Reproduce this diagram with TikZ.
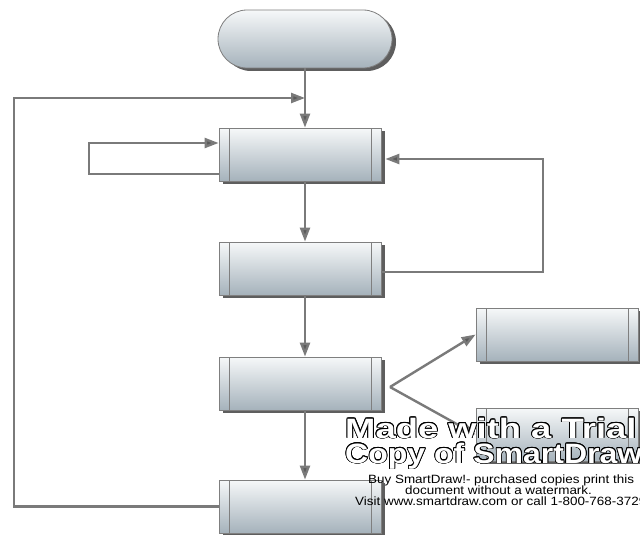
\documentclass[tikz,border=0pt]{standalone}
\usepackage{fontspec}
\usepackage{contour}
\contourlength{0.9pt}
\usetikzlibrary{arrows.meta,shadows,calc}
\newfontfamily\wmfont{Liberation Sans}[FakeStretch=1.3]
\newfontfamily\smfont{Liberation Sans}[FakeStretch=1.12]
\definecolor{edge}{HTML}{7F7F7F}
\definecolor{topc}{HTML}{F6F8F9}
\definecolor{botc}{HTML}{A5B2BB}
\definecolor{shad}{HTML}{5E5E5E}
\definecolor{conncol}{HTML}{7A7A7A}
\definecolor{tipcol}{HTML}{5A5A5A}
\tikzset{
  procbox/.style={draw=edge, line width=0.8pt, top color=topc, bottom color=botc,
    minimum width=162pt, minimum height=53pt, inner sep=0pt,
    general shadow={fill=shad, shadow xshift=4pt, shadow yshift=-3pt},
    path picture={
      \draw[edge, line width=0.8pt] ([xshift=10pt]path picture bounding box.north west) -- ([xshift=10pt]path picture bounding box.south west);
      \draw[edge, line width=0.8pt] ([xshift=-10pt]path picture bounding box.north east) -- ([xshift=-10pt]path picture bounding box.south east);
    }},
  termbox/.style={draw=edge, line width=0.8pt, top color=topc, bottom color=botc,
    minimum width=174pt, minimum height=58pt, inner sep=0pt, rounded corners=29pt,
    general shadow={fill=shad, shadow xshift=4pt, shadow yshift=-3pt}},
  conn/.style={draw=conncol, line width=2.4pt},
  arr/.style={conn, -{Triangle[length=14pt,width=10pt,fill=tipcol]}},
  wmtext/.style={font=\wmfont\bfseries\fontsize{28}{28}\selectfont, inner sep=0pt, anchor=base west},
  smtext/.style={font=\smfont\fontsize{12}{12}\selectfont, inner sep=0pt, anchor=base west}
}
\begin{document}
\begin{tikzpicture}[x=1pt,y=-1pt]
\useasboundingbox (0,0) rectangle (640,535);
\clip (0,0) rectangle (640,535);
% nodes
\node[termbox] (t) at (305,39) {};
\node[procbox] (b1) at (300,154.5) {};
\node[procbox] (b2) at (300,268.5) {};
\node[procbox] (b3) at (300,383.5) {};
\node[procbox] (b5) at (300,506.5) {};
\node[procbox] (b4) at (557,334.5) {};
\node[procbox] (b4b) at (557,434.5) {};
% coordinates
\coordinate (L) at (14,98);
\coordinate (s1) at (89,174);
\coordinate (s2) at (89,143);
\coordinate (r1) at (543,272);
\coordinate (r2) at (543,159);
\coordinate (br) at (390,387);
% connectors
\draw[arr] (t.south) -- (b1.north -| t.south);
\draw[arr] (b1.south -| t.south) -- (b2.north -| t.south);
\draw[arr] (b2.south -| t.south) -- (b3.north -| t.south);
\draw[arr] (b3.south -| t.south) -- (b5.north -| t.south);
\draw[arr] (b5.west) -| (L) -- (L -| t.south);
\draw[arr] (b1.west |- s1) -- (s1) -- (s2) -- (b1.west |- s2);
\draw[arr] (b2.east |- r1) -- (r1) -- (r2) -- ([xshift=4pt]b1.east |- r2);
\draw[arr] (br) -- (b4.west);
\draw[arr] (br) -- (b4b.west);
% watermark
\node[wmtext] (w1) at (345,438) {\color{white}\contour{black}{Made with a Trial}};
\node[wmtext] (w2) at (345,463) {\scalebox{0.88}[1]{\color{white}\contour{black}{Copy of SmartDraw}}};
\node[smtext] (m1) at (368,483) {Buy SmartDraw!- purchased copies print this};
\node[smtext] (m2) at (405,494) {document without a watermark.};
\node[smtext] (m3) at (355,505) {Visit www.smartdraw.com or call 1-800-768-3729};
\end{tikzpicture}
\end{document}
